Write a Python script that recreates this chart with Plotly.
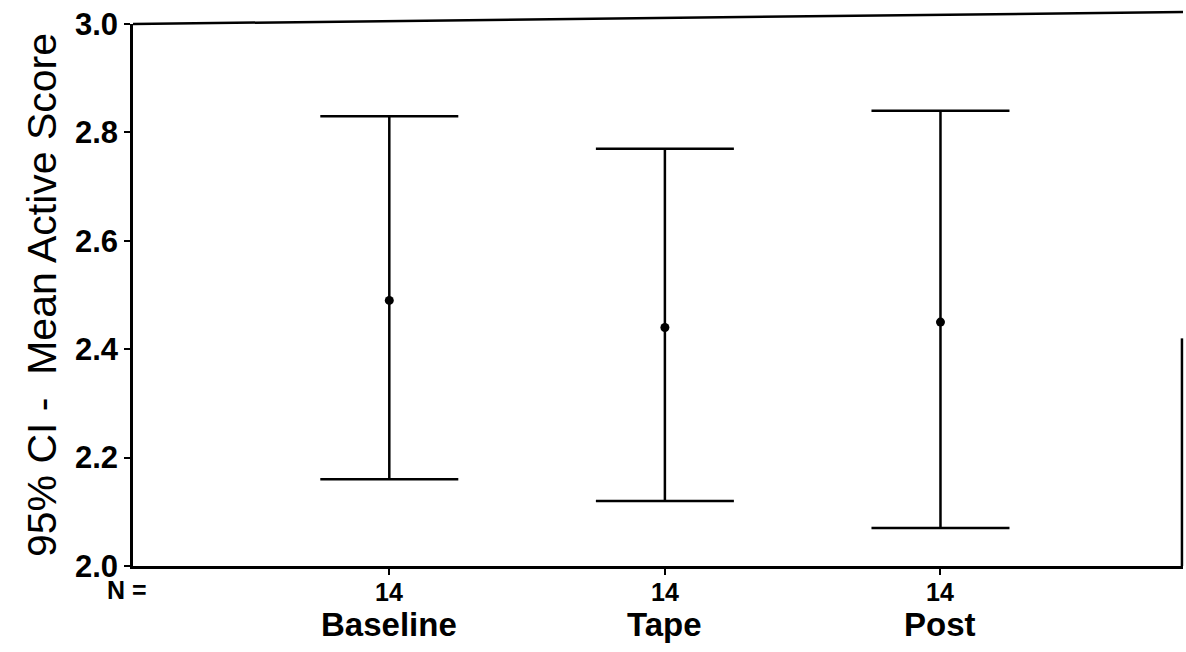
import plotly.graph_objects as go

categories = ["Baseline", "Tape", "Post"]
n_values = [14, 14, 14]
means = [2.49, 2.44, 2.45]
upper = [2.83, 2.77, 2.84]
lower = [2.16, 2.12, 2.07]
y_ticks = [2.0, 2.2, 2.4, 2.6, 2.8, 3.0]
y_ticklabels = ["2.0", "2.2", "2.4", "2.6", "2.8", "3.0"]

xpos = [1, 2, 3]
err_plus = [u - m for u, m in zip(upper, means)]
err_minus = [m - l for m, l in zip(means, lower)]

FONT = "Liberation Sans, Arial, sans-serif"

fig = go.Figure()
fig.add_trace(go.Scatter(
    x=xpos, y=means, mode="markers",
    marker=dict(color="black", size=9),
    error_y=dict(type="data", symmetric=False, array=err_plus, arrayminus=err_minus,
                 color="black", thickness=2.5, width=69),
    showlegend=False,
))

annotations = []
for xp, n, c in zip(xpos, n_values, categories):
    annotations.append(dict(x=xp, y=-0.048, xref="x", yref="paper", text=f"<b>{n}</b>",
                            showarrow=False, yanchor="middle", font=dict(family=FONT, size=25, color="black")))
    annotations.append(dict(x=xp, y=-0.108, xref="x", yref="paper", text=f"<b>{c}</b>",
                            showarrow=False, yanchor="middle", font=dict(family=FONT, size=33, color="black")))
annotations.append(dict(x=-0.027, y=-0.044, xref="paper", yref="paper", text="<b>N =</b>",
                        showarrow=False, xanchor="left", yanchor="middle",
                        font=dict(family=FONT, size=25, color="black")))

fig.update_layout(
    width=1186, height=652,
    margin=dict(l=133, r=3, t=24, b=86),
    plot_bgcolor="white", paper_bgcolor="white",
    font=dict(family=FONT, color="black"),
    annotations=annotations,
    xaxis=dict(range=[0.07, 3.88], tickvals=xpos, ticktext=["", "", ""],
               showline=True, linecolor="black", linewidth=2.5, mirror=False,
               ticks="outside", ticklen=6, tickcolor="black", tickwidth=2,
               showgrid=False, zeroline=False),
    yaxis=dict(range=[2.0, 3.0], tickvals=y_ticks, ticktext=y_ticklabels,
               tickfont=dict(family=FONT, size=31, color="black", weight="bold"),
               showline=True, linecolor="black", linewidth=2.5,
               ticks="outside", ticklen=6, tickcolor="black", tickwidth=2,
               showgrid=False, zeroline=False,
               title=dict(text="95% CI -  Mean Active Score", standoff=6,
                          font=dict(family=FONT, size=41, color="black"))),
    shapes=[
        dict(type="line", xref="paper", yref="paper", x0=0, x1=1, y0=1, y1=1.022,
             line=dict(color="black", width=2.5)),
        dict(type="line", xref="paper", yref="y", x0=0.999, x1=0.999, y0=2.0, y1=2.42,
             line=dict(color="black", width=2.5)),
    ],
)

fig.write_html("out.html")
